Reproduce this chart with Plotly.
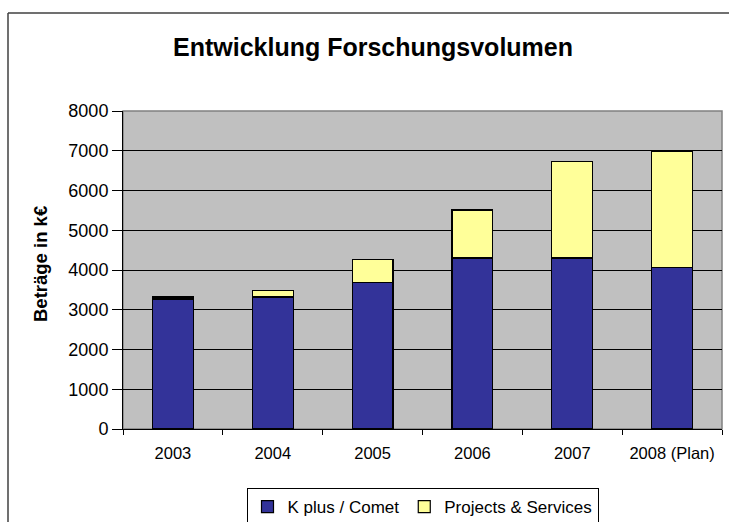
import plotly.graph_objects as go

categories = ["2003", "2004", "2005", "2006", "2007", "2008 (Plan)"]
kplus_comet = [3270, 3320, 3680, 4300, 4300, 4070]
projects_services = [50, 170, 580, 1210, 2420, 2920]
y_ticks = [0, 1000, 2000, 3000, 4000, 5000, 6000, 7000, 8000]

W, H = 729, 522
L, R, T, B = 123, 7, 111, 93
PW, PH = W - L - R, H - T - B


def px_x(px):
    return (px - L) / PW


def px_y(py):
    return (H - B - py) / PH


FONT = "Liberation Sans, Arial, sans-serif"

fig = go.Figure()
fig.add_trace(go.Bar(
    x=categories, y=kplus_comet, name="K plus / Comet",
    marker=dict(color="#333399", line=dict(color="black", width=1.2)),
))
fig.add_trace(go.Bar(
    x=categories, y=projects_services, name="Projects & Services",
    marker=dict(color="#FFFF99", line=dict(color="black", width=1.2)),
))

fig.update_layout(
    width=W, height=H,
    margin=dict(l=L, r=R, t=T, b=B, autoexpand=False),
    barmode="stack", bargap=0.59,
    paper_bgcolor="white", plot_bgcolor="#C0C0C0",
    font=dict(family=FONT, color="black"),
    title=dict(text="<b>Entwicklung Forschungsvolumen</b>", x=373 / W, xanchor="center",
               y=1 - 47 / H, yanchor="middle", yref="container",
               font=dict(size=25, family=FONT, color="black")),
    showlegend=True,
    legend=dict(orientation="h", x=0.5, xanchor="center", y=px_y(488), yanchor="top",
                bordercolor="black", borderwidth=1, bgcolor="white",
                font=dict(size=17, family=FONT), traceorder="normal"),
    xaxis=dict(type="category", showline=True, linecolor="black", linewidth=1,
               ticks="outside", tickson="boundaries", ticklen=5, tickcolor="black",
               ticklabelstandoff=9,
               tickfont=dict(size=16.5, family=FONT), showgrid=False),
    yaxis=dict(range=[0, 8000], tickvals=y_ticks, showline=True, linecolor="black",
               linewidth=1, ticks="outside", ticklen=10, tickcolor="black",
               showgrid=True, gridcolor="black", gridwidth=1,
               tickfont=dict(size=18, family=FONT), zeroline=False),
    shapes=[
        dict(type="rect", xref="paper", yref="paper", x0=0, x1=1, y0=0, y1=1,
             line=dict(color="#808080", width=1.5), layer="below"),
        dict(type="line", xref="paper", yref="paper", x0=px_x(8), x1=px_x(760),
             y0=px_y(13), y1=px_y(13), line=dict(color="#404040", width=1.5)),
        dict(type="line", xref="paper", yref="paper", x0=px_x(8), x1=px_x(8),
             y0=px_y(13), y1=px_y(560), line=dict(color="#404040", width=1.5)),
    ],
    annotations=[
        dict(text="<b>Beträge in k€</b>", xref="paper", yref="paper",
             x=px_x(40), y=px_y(264), textangle=-90, showarrow=False,
             xanchor="center", yanchor="middle", font=dict(size=18.5, family=FONT)),
    ],
)

fig.write_html("out.html")
